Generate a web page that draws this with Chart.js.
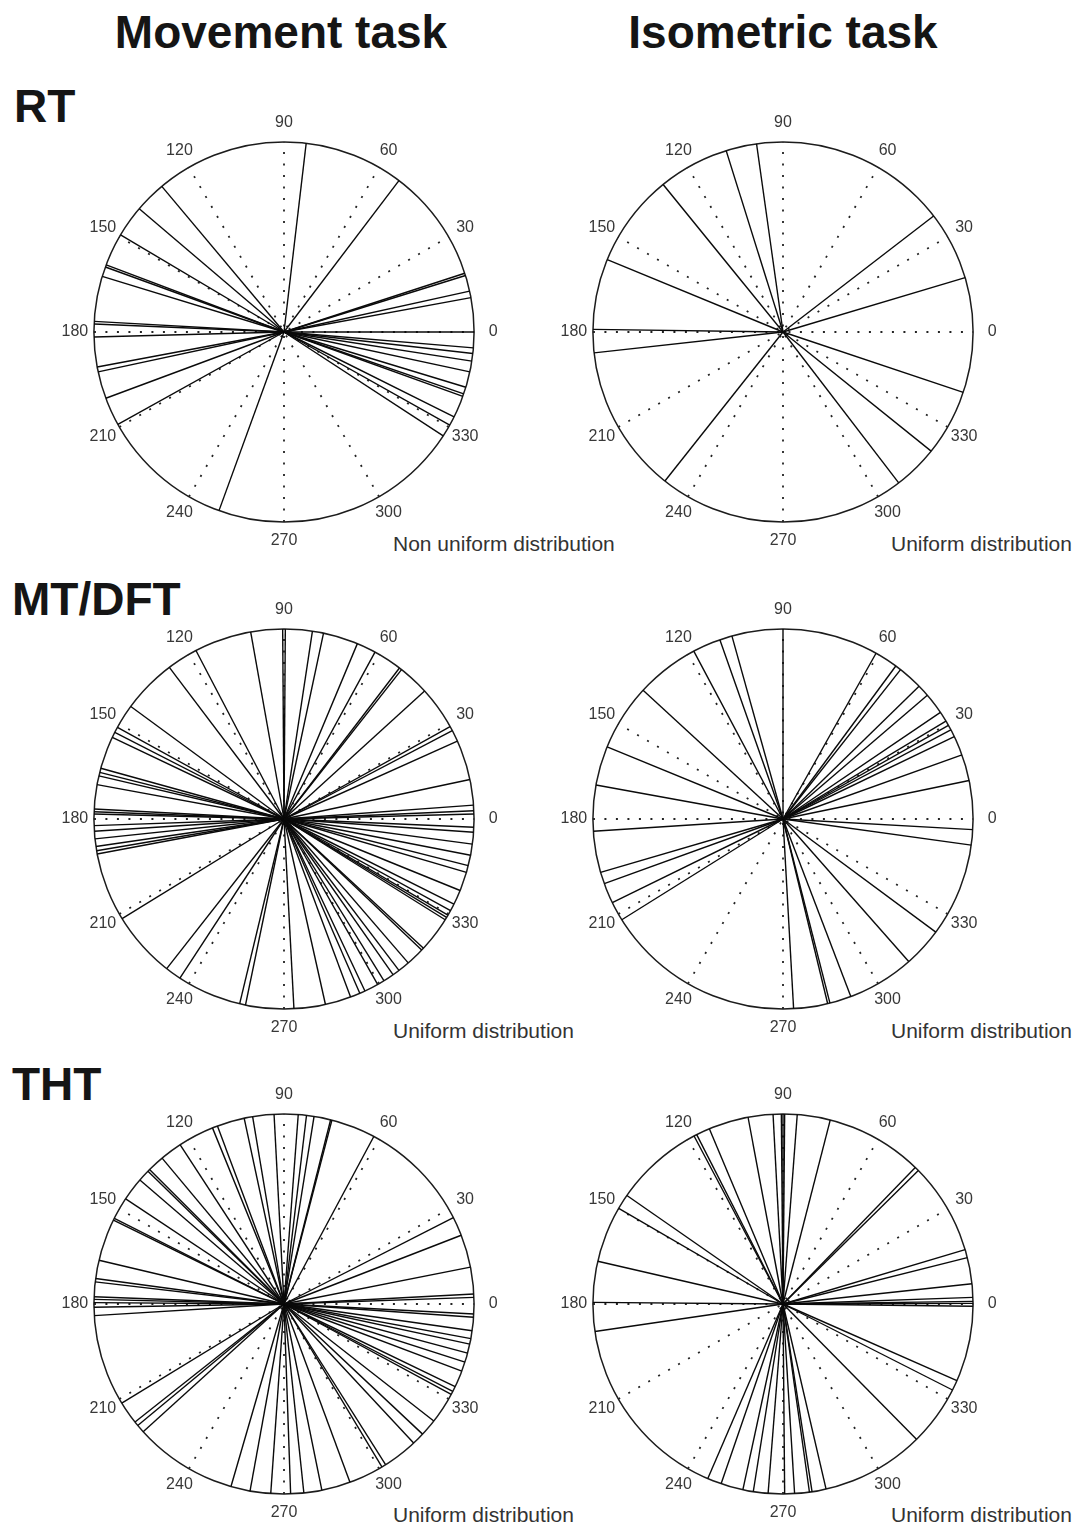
<!DOCTYPE html>
<html>
<head>
<meta charset="utf-8">
<script src="https://cdn.jsdelivr.net/npm/chart.js@4"></script>
<style>
body { margin: 0; background: #fff; font-family: "Liberation Sans", Arial, sans-serif; }
#page { position: relative; width: 1077px; height: 1526px; overflow: hidden; }
.title, .row { position: absolute; font-weight: bold; font-size: 46px; line-height: 46px; color: #151515; white-space: nowrap; }
.title { transform: translateX(-50%); }
.dist { position: absolute; font-size: 21px; line-height: 21px; color: #333; white-space: nowrap; }
canvas { position: absolute; }
</style>
</head>
<body>
<div id="page">
  <div class="title" style="left:281px; top:9px">Movement task</div>
  <div class="title" style="left:783px; top:9px">Isometric task</div>
  <div class="row" style="left:14px; top:83px">RT</div>
  <div class="row" style="left:12px; top:576px">MT/DFT</div>
  <div class="row" style="left:12px; top:1061px">THT</div>
  <div class="dist" style="left:393px; top:533px">Non uniform distribution</div>
  <div class="dist" style="left:891px; top:533px">Uniform distribution</div>
  <div class="dist" style="left:393px; top:1020px">Uniform distribution</div>
  <div class="dist" style="left:891px; top:1020px">Uniform distribution</div>
  <div class="dist" style="left:393px; top:1504px">Uniform distribution</div>
  <div class="dist" style="left:891px; top:1504px">Uniform distribution</div>
</div>
<script>
// angles in degrees
const spokeAngles = [0, 30, 60, 90, 120, 150];
const tickLabels = [0, 30, 60, 90, 120, 150, 180, 210, 240, 270, 300, 330];

const rtMovement = [83.3, 52.8, 17.3, 18.0, 12.4, 10.4, 0.0, 355.2, 353.5, 351.2, 347.9, 343.1, 340.2, 341.0,
  333.5, 330.7, 326.9, 250.0, 209.1, 200.4, 192.1, 190.6, 181.5, 176.8, 177.6, 163.0, 159.3, 160.0, 149.3, 139.6, 130.0];
const rtIsometric = [98.0, 107.4, 129.1, 157.6, 179.2, 186.3, 231.6, 307.5, 321.2, 341.5, 16.6, 37.6];

const mtMovement = [1.5, 2.5, 4.2, 12.0, 24.2, 27.7, 29.1, 42.3, 51.8, 52.6, 61.4, 67.3, 78.0, 81.4, 89.6, 90.4,
  100.1, 117.6, 127.1, 143.7, 151.2, 152.9, 154.6, 164.5, 165.8, 166.9, 169.6, 177.0, 177.8, 178.5, 182.0, 183.7,
  186.0, 188.3, 189.6, 190.6, 211.6, 231.9, 236.8, 256.5, 258.3, 273.0, 282.6, 290.5, 293.5, 295.2, 299.5, 301.7,
  305.0, 307.2, 310.8, 316.4, 317.2, 328.0, 328.8, 329.6, 331.2, 333.4, 337.9, 343.7, 345.8, 349.0, 352.4, 356.0, 357.5];
const mtIsometric = [90.0, 105.6, 109.4, 118.0, 137.4, 157.7, 169.7, 183.7, 196.3, 199.9, 206.1, 212.0, 273.2,
  283.6, 284.3, 290.9, 311.4, 323.5, 352.1, 356.8, 11.7, 19.7, 25.7, 28.0, 29.5, 31.0, 34.1, 40.6, 44.3, 51.8, 53.6, 60.7];

const thtMovement = [93.0, 99.5, 102.1, 110.5, 112.1, 123.1, 129.9, 135.0, 135.7, 139.3, 146.4, 153.2, 153.8, 166.7,
  172.3, 173.3, 177.8, 178.6, 179.6, 181.0, 183.5, 85.7, 83.2, 80.9, 75.8, 75.4, 61.8, 27.0, 21.2, 11.2, 3.0, 2.0,
  357.0, 356.0, 351.9, 349.5, 347.8, 345.0, 342.2, 339.3, 334.2, 332.6, 331.6, 322.0, 316.8, 313.0, 302.3, 301.0,
  290.3, 281.5, 276.0, 272.0, 266.0, 259.7, 253.8, 222.2, 219.7, 218.4, 211.4];
const thtIsometric = [89.5, 90.0, 90.5, 93.0, 85.7, 75.6, 100.6, 112.8, 117.0, 117.9, 145.2, 149.8, 167.0, 179.5,
  188.3, 246.7, 251.0, 257.8, 261.0, 265.5, 270.5, 273.5, 278.0, 278.8, 283.1, 314.6, 333.1, 336.2, 359.3, 0.2, 0.8,
  2.0, 6.1, 14.1, 16.6, 44.6, 45.9];

const panels = [
  { angles: rtMovement, cx: 284, cy: 332 },
  { angles: rtIsometric, cx: 783, cy: 332 },
  { angles: mtMovement, cx: 284, cy: 819 },
  { angles: mtIsometric, cx: 783, cy: 819 },
  { angles: thtMovement, cx: 284, cy: 1304 },
  { angles: thtIsometric, cx: 783, cy: 1304 }
];

const rad = (d) => d * Math.PI / 180;
const SIZE = 460, LIM = 1.21;

const polarFrame = {
  id: 'polarFrame',
  beforeDatasetsDraw(chart) {
    const { ctx, scales: { x, y } } = chart;
    const cx = x.getPixelForValue(0), cy = y.getPixelForValue(0);
    const r = x.getPixelForValue(1) - cx;
    ctx.save();
    ctx.strokeStyle = '#1c1c1c';
    ctx.lineWidth = 1.5;
    ctx.beginPath();
    ctx.arc(cx, cy, r, 0, Math.PI * 2);
    ctx.stroke();
    ctx.font = '16px "Liberation Sans", Arial, sans-serif';
    ctx.fillStyle = '#383838';
    ctx.textAlign = 'center';
    ctx.textBaseline = 'middle';
    tickLabels.forEach((a) => {
      ctx.fillText(String(a), x.getPixelForValue(1.1 * Math.cos(rad(a))), y.getPixelForValue(1.1 * Math.sin(rad(a))));
    });
    ctx.restore();
  }
};

const page = document.getElementById('page');
panels.forEach((p) => {
  const canvas = document.createElement('canvas');
  canvas.width = SIZE;
  canvas.height = SIZE;
  canvas.style.left = (p.cx - SIZE / 2) + 'px';
  canvas.style.top = (p.cy - SIZE / 2) + 'px';
  page.appendChild(canvas);

  const solid = p.angles.map((a) => ({
    data: [{ x: 0, y: 0 }, { x: Math.cos(rad(a)), y: Math.sin(rad(a)) }],
    showLine: true, borderColor: '#0a0a0a', borderWidth: 1.4, pointRadius: 0, order: 0
  }));
  const dotted = spokeAngles.map((a) => ({
    data: [{ x: -Math.cos(rad(a)), y: -Math.sin(rad(a)) }, { x: Math.cos(rad(a)), y: Math.sin(rad(a)) }],
    showLine: true, borderColor: '#222', borderWidth: 1.8, borderDash: [2, 9.5], pointRadius: 0, order: 1
  }));

  new Chart(canvas, {
    type: 'scatter',
    data: { datasets: [...solid, ...dotted] },
    options: {
      responsive: false, animation: false, events: [],
      layout: { padding: 0 },
      plugins: { legend: { display: false }, tooltip: { enabled: false } },
      scales: {
        x: { type: 'linear', min: -LIM, max: LIM, display: false },
        y: { type: 'linear', min: -LIM, max: LIM, display: false }
      }
    },
    plugins: [polarFrame]
  });
});
</script>
</body>
</html>
